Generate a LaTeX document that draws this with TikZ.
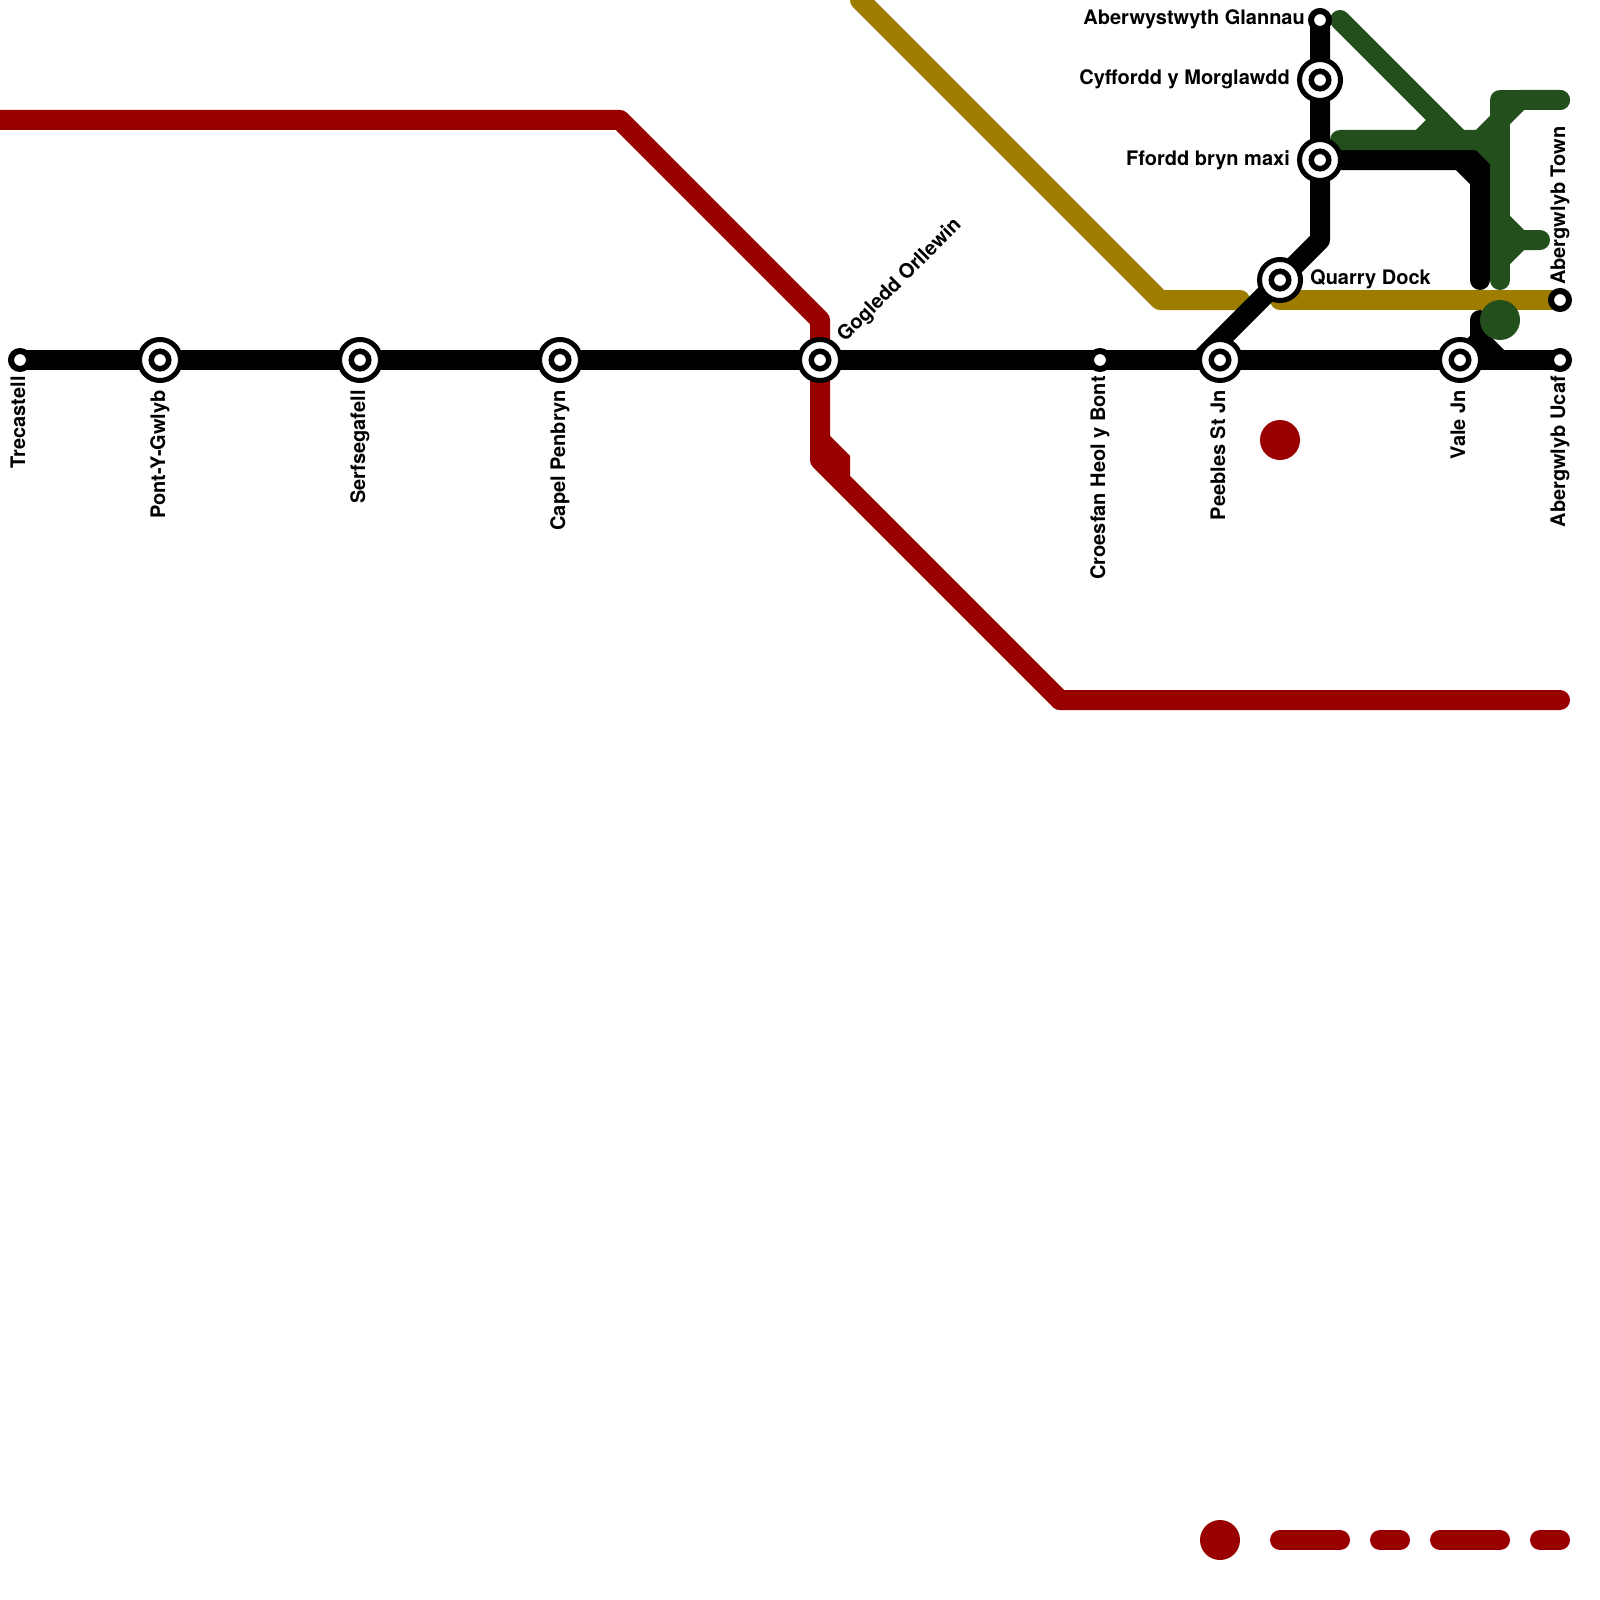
\documentclass[tikz,border=0pt]{standalone}
\usepackage{fontspec}
\setmainfont{TeX Gyre Heros}
\usepackage{xcolor}
\usetikzlibrary{backgrounds,shapes.geometric}
\definecolor{redline}  {HTML}{990000}
\definecolor{goldline} {HTML}{9D7C00}
\definecolor{greenline}{HTML}{224F1C}
\tikzset{
  metroline/.style={line width=20pt, line cap=round, line join=round},
  interchange/.style={circle, draw=black, fill=white, line width=5pt, minimum size=41pt, inner sep=0pt,
    path picture={\draw[black, line width=5.5pt] (path picture bounding box.center) circle (8.75pt);}},
  terminus/.style={circle, draw=black, fill=white, line width=6pt, minimum size=18pt, inner sep=0pt},
  blob/.style={circle, minimum size=40pt, inner sep=0pt},
  stnlabel/.style={font=\fontsize{20pt}{23pt}\selectfont\bfseries, inner sep=0pt, text=black},
}
\begin{document}
\begin{tikzpicture}[x=1pt, y=-1pt]
  \useasboundingbox (0,0) rectangle (1600,1600);

  % stations
  \node[terminus]    (trecastell)  at (20,360)   {};
  \node[interchange] (pontygwlyb)  at (160,360)  {};
  \node[interchange] (serfsegafell) at (360,360) {};
  \node[interchange] (capelpenbryn) at (560,360) {};
  \node[interchange] (gogledd)     at (820,360)  {};
  \node[terminus]    (croesfan)    at (1100,360) {};
  \node[interchange] (peebles)     at (1220,360) {};
  \node[interchange] (valejn)      at (1460,360) {};
  \node[terminus]    (ucaf)        at (1560,360) {};
  \node[terminus]    (town)        at (1560,300) {};
  \node[interchange] (quarry)      at (1280,280) {};
  \node[interchange] (ffordd)      at (1320,160) {};
  \node[interchange] (cyffordd)    at (1320,80)  {};
  \node[terminus]    (glannau)     at (1320,20)  {};

  % labels
  \node[stnlabel, rotate=90, anchor=base east] (trecastelltext) at ([shift={(5,16)}]trecastell.center) {Trecastell};
  \node[stnlabel, rotate=90, anchor=base east] (pontygwlybtext) at ([shift={(5,30)}]pontygwlyb.center) {Pont-Y-Gwlyb};
  \node[stnlabel, rotate=90, anchor=base east] (serfsegafelltext) at ([shift={(5,30)}]serfsegafell.center) {Serfsegafell};
  \node[stnlabel, rotate=90, anchor=base east] (capelpenbryntext) at ([shift={(5,30)}]capelpenbryn.center) {Capel Penbryn};
  \node[stnlabel, rotate=90, anchor=base east] (croesfantext) at ([shift={(5,16)}]croesfan.center) {Croesfan Heol y Bont};
  \node[stnlabel, rotate=90, anchor=base east] (peeblestext) at ([shift={(5,30)}]peebles.center) {Peebles St Jn};
  \node[stnlabel, rotate=90, anchor=base east] (valejntext) at ([shift={(5,30)}]valejn.center) {Vale Jn};
  \node[stnlabel, rotate=90, anchor=base east] (ucaftext) at ([shift={(5,16)}]ucaf.center) {Abergwlyb Ucaf};
  \node[stnlabel, rotate=90, anchor=base west] (towntext) at ([shift={(5,-15)}]town.center) {Abergwlyb Town};
  \node[stnlabel, rotate=45, anchor=base west] (gogleddtext) at ([shift={(25,-17)}]gogledd.center) {Gogledd Orllewin};
  \node[stnlabel, anchor=base east] (glannautext) at ([shift={(-15,5)}]glannau.center) {Aberwystwyth Glannau};
  \node[stnlabel, anchor=base east] (cyfforddtext) at ([shift={(-30,5)}]cyffordd.center) {Cyffordd y Morglawdd};
  \node[stnlabel, anchor=base east] (ffordddtext) at ([shift={(-30,5)}]ffordd.center) {Ffordd bryn maxi};
  \node[stnlabel, anchor=base west] (quarrytext) at ([shift={(30,4)}]quarry.center) {Quarry Dock};

  % lone dots
  \node[blob, fill=greenline] (greendot) at (1500,320) {};
  \node[blob, fill=redline] (reddot) at (1280,440) {};
  \node[blob, fill=redline] (legenddot) at (1220,1540) {};

  \coordinate (dashstart) at (1280,1540);
  \coordinate (dashend) at (1560,1540);

  \begin{pgfonlayer}{background}
    % red line
    \draw[metroline, redline, line cap=butt] (0,120) -- (620,120) -- (820,320) -- (820,460) -- (1060,700) -- (1560,700);
    \draw[metroline, redline, line cap=round] (1060,700) -- (1560,700);
    \draw[metroline, redline, line cap=butt, line join=miter] (820,440) -- (840,460) -- (840,480);
    \draw[metroline, redline, dash pattern=on 60pt off 40pt on 20pt off 40pt] (dashstart) -- (dashend);
    % gold line
    \draw[metroline, goldline] (860,0) -- (1160,300) -- (1240,300);
    \draw[metroline, goldline] (quarry.center) ++(0,20) -- (town.center);
    % black line
    \draw[metroline, black] (trecastell.center) -- (ucaf.center);
    \draw[metroline, black] (glannau.center) -- (cyffordd.center) -- (ffordd.center) -- (1320,240) -- (quarry.center) -- (1200,360);
    \draw[metroline, black, line join=miter] (ffordd.center) -- (1460,160) -- (1480,180) -- (1480,280);
    \draw[metroline, black, line cap=butt, line join=miter] (1460,160) -- (1480,160) -- (1480,180);
    \draw[metroline, black] (valejn.center) -- (1480,340) -- (1480,320);
    \draw[metroline, black] (1480,340) -- (1500,360);
    % green line
    \draw[metroline, greenline] (1340,20) -- (1460,140);
    \draw[metroline, greenline] (1420,140) -- (1440,120);
    \draw[metroline, greenline] (1340,140) -- (1480,140) -- (1520,100) -- (1560,100);
    \draw[metroline, greenline] (1480,140) -- (1500,160);
    \draw[metroline, greenline] (1560,100) -- (1500,100) -- (1500,280);
    \draw[metroline, greenline] (1500,220) -- (1520,240) -- (1540,240);
    \draw[metroline, greenline] (1520,240) -- (1500,260);
  \end{pgfonlayer}
\end{tikzpicture}
\end{document}
